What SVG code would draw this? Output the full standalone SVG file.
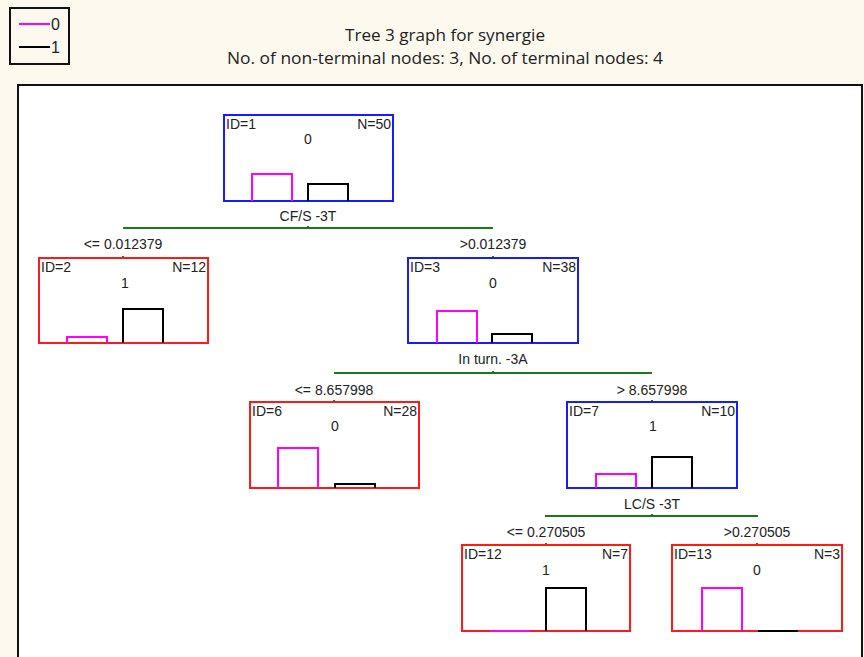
<svg xmlns="http://www.w3.org/2000/svg" width="864" height="657" viewBox="0 0 864 657">
<style>
.t{font-family:"Liberation Sans",Arial,sans-serif;font-size:14px;fill:#222}
.c{text-anchor:middle}
.r{text-anchor:end}
.title{font-family:"Open Sans","Noto Sans",sans-serif;font-size:16px;fill:#222;text-anchor:middle}
.nb{fill:#fff;stroke:#1a1aff;stroke-width:2}
.nr{fill:#fff;stroke:#ff1a1a;stroke-width:2}
.m{fill:none;stroke:#ff00ff;stroke-width:2}
.k{fill:none;stroke:#000;stroke-width:2}
.g{stroke:#1a7a1a;stroke-width:2;fill:none}
</style>
<rect x="0" y="0" width="864" height="657" fill="#fdf9ef"/>
<g id="legend">
<rect x="10" y="8" width="59" height="56" fill="none" stroke="#111" stroke-width="2"/>
<line x1="19" y1="24" x2="50" y2="24" stroke="#ff00ff" stroke-width="2"/>
<text class="t" x="51" y="30" style="font-size:16px">0</text>
<line x1="19" y1="47" x2="50" y2="47" stroke="#000" stroke-width="2"/>
<text class="t" x="51" y="53" style="font-size:16px">1</text>
</g>
<g id="title">
<text class="title" x="445" y="41" textLength="200" lengthAdjust="spacingAndGlyphs">Tree 3 graph for synergie</text>
<text class="title" x="445" y="64" textLength="436" lengthAdjust="spacingAndGlyphs">No. of non-terminal nodes: 3,  No. of terminal nodes: 4</text>
</g>
<rect x="18" y="85" width="844" height="600" fill="#fff" stroke="#111" stroke-width="2"/>
<g id="connectors">
<line class="g" x1="123" y1="228" x2="493" y2="228"/>
<line class="g" x1="308" y1="226" x2="308" y2="229"/>
<line class="g" x1="123" y1="256" x2="123" y2="258"/>
<line class="g" x1="493" y1="256" x2="493" y2="258"/>
<text class="t c" x="308" y="221">CF/S -3T</text>
<text class="t c" x="123" y="249">&lt;= 0.012379</text>
<text class="t c" x="493" y="249">&gt;0.012379</text>
<line class="g" x1="334" y1="373" x2="652" y2="373"/>
<line class="g" x1="493" y1="371" x2="493" y2="374"/>
<line class="g" x1="334" y1="400" x2="334" y2="402"/>
<line class="g" x1="652" y1="400" x2="652" y2="402"/>
<text class="t c" x="493" y="364">In turn. -3A</text>
<text class="t c" x="334" y="395">&lt;= 8.657998</text>
<text class="t c" x="652" y="395">&gt; 8.657998</text>
<line class="g" x1="545" y1="516" x2="758" y2="516"/>
<line class="g" x1="652" y1="514" x2="652" y2="517"/>
<line class="g" x1="546" y1="543" x2="546" y2="545"/>
<line class="g" x1="757" y1="543" x2="757" y2="545"/>
<text class="t c" x="652" y="509">LC/S -3T</text>
<text class="t c" x="546" y="537">&lt;= 0.270505</text>
<text class="t c" x="757" y="537">&gt;0.270505</text>
</g>
<g id="node1">
<rect class="nb" x="224" y="115" width="169" height="86"/>
<text class="t" x="226" y="129">ID=1</text>
<text class="t r" x="391" y="129">N=50</text>
<text class="t c" x="308" y="144">0</text>
<polyline class="m" points="252,201 252,174 292,174 292,201"/>
<polyline class="k" points="308,201 308,184 348,184 348,201"/>
</g>
<g id="node2">
<rect class="nr" x="39" y="258" width="169" height="85"/>
<text class="t" x="41" y="272">ID=2</text>
<text class="t r" x="206" y="272">N=12</text>
<text class="t c" x="125" y="288">1</text>
<polyline class="m" points="67,343 67,337 107,337 107,343"/>
<polyline class="k" points="123,343 123,309 163,309 163,343"/>
</g>
<g id="node3">
<rect class="nb" x="408" y="258" width="170" height="85"/>
<text class="t" x="410" y="272">ID=3</text>
<text class="t r" x="576" y="272">N=38</text>
<text class="t c" x="493" y="288">0</text>
<polyline class="m" points="437,343 437,311 477,311 477,343"/>
<polyline class="k" points="492,343 492,334 532,334 532,343"/>
</g>
<g id="node6">
<rect class="nr" x="250" y="402" width="169" height="86"/>
<text class="t" x="252" y="416">ID=6</text>
<text class="t r" x="417" y="416">N=28</text>
<text class="t c" x="335" y="431">0</text>
<polyline class="m" points="278,488 278,448 318,448 318,488"/>
<polyline class="k" points="335,488 335,484 375,484 375,488"/>
</g>
<g id="node7">
<rect class="nb" x="567" y="402" width="170" height="86"/>
<text class="t" x="569" y="416">ID=7</text>
<text class="t r" x="735" y="416">N=10</text>
<text class="t c" x="653" y="431">1</text>
<polyline class="m" points="596,488 596,474 636,474 636,488"/>
<polyline class="k" points="652,488 652,457 692,457 692,488"/>
</g>
<g id="node12">
<rect class="nr" x="462" y="545" width="168" height="86"/>
<text class="t" x="464" y="559">ID=12</text>
<text class="t r" x="628" y="559">N=7</text>
<text class="t c" x="546" y="575">1</text>
<line class="m" x1="490" y1="631" x2="530" y2="631"/>
<polyline class="k" points="546,631 546,588 586,588 586,631"/>
</g>
<g id="node13">
<rect class="nr" x="672" y="545" width="170" height="86"/>
<text class="t" x="674" y="559">ID=13</text>
<text class="t r" x="840" y="559">N=3</text>
<text class="t c" x="757" y="575">0</text>
<polyline class="m" points="702,631 702,588 742,588 742,631"/>
<line class="k" x1="758" y1="631" x2="798" y2="631"/>
</g>
</svg>
